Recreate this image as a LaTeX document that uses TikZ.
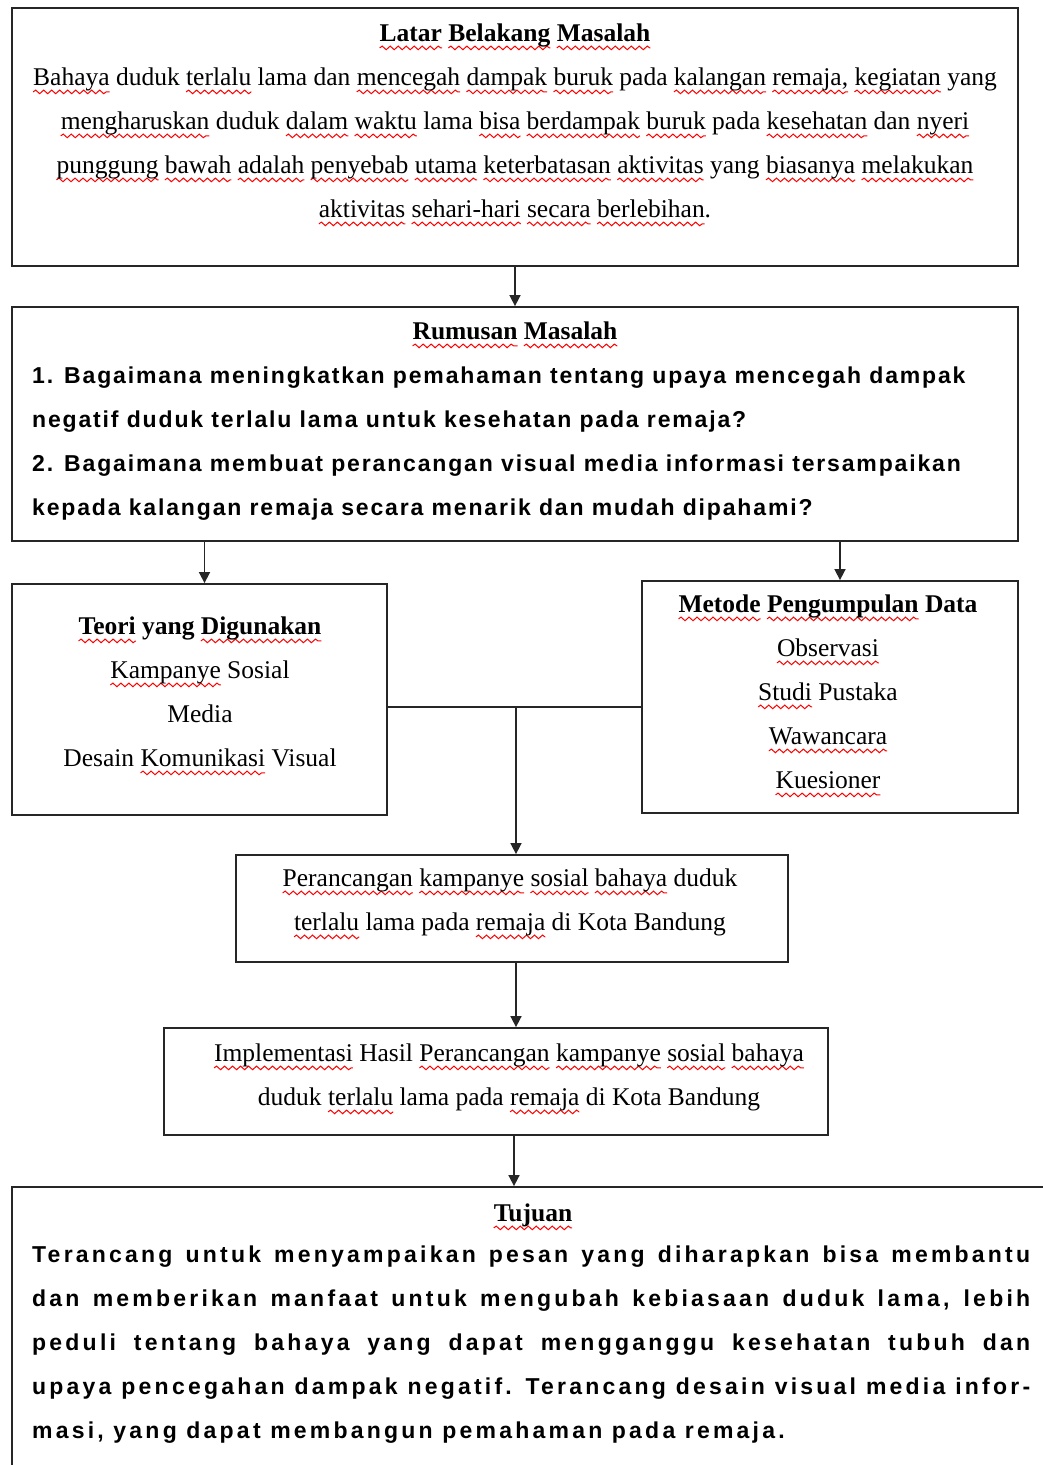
\documentclass[tikz,border=0pt]{standalone}
\usepackage{fontspec}
\setmainfont{Liberation Serif}
\newfontfamily\boldsans[LetterSpace=8]{Liberation Sans}
\newfontfamily\widesans[LetterSpace=14]{Liberation Sans}
\usetikzlibrary{arrows.meta,decorations.pathmorphing}
\newsavebox\splbox
\newcommand\spl[1]{\sbox\splbox{#1}\tikz[overlay,baseline=0pt,x=1pt,y=1pt]\draw[red, line width=1pt, decorate, decoration={snake, amplitude=1.8pt, segment length=8pt}] (0pt,-6pt) -- (\the\wd\splbox,-6pt);\usebox\splbox}
\tikzset{
  box/.style={draw=black!85, line width=1.8pt},
  txt/.style={font=\fontsize{25.5}{44}\selectfont, align=center, inner sep=0pt, anchor=north},
  arr/.style={-{Triangle[length=11pt,width=11pt]}, line width=1.6pt, black!85},
  ln/.style={line width=1.6pt, black!85}
}
\begin{document}
\begin{tikzpicture}[x=1pt,y=-1pt]
\useasboundingbox (0,0) rectangle (1043,1465);
\clip (0,0) rectangle (1043,1465);

% Boxes
\node[box, minimum width=1006pt, minimum height=258pt] (latar) at (515,137) {};
\node[box, minimum width=1006pt, minimum height=234pt] (rumusan) at (515,424) {};
\node[box, minimum width=375pt, minimum height=231pt] (teori) at (199.5,699.5) {};
\node[box, minimum width=376pt, minimum height=232pt] (metode) at (830,697) {};
\node[box, minimum width=552pt, minimum height=107pt] (rancang) at (512,908.5) {};
\node[box, minimum width=664pt, minimum height=107pt] (impl) at (496,1081.5) {};
\node[box, minimum width=1042pt, minimum height=300pt] (tujuan) at (533,1337) {};

% Latar Belakang
\node[txt] (latar-txt) at (515,24) {\textbf{\spl{Latar} \spl{Belakang} \spl{Masalah}}\\
\spl{Bahaya} duduk \spl{terlalu} lama dan \spl{mencegah} \spl{dampak} \spl{buruk} pada \spl{kalangan} \spl{remaja,} \spl{kegiatan} yang\\
\spl{mengharuskan} duduk \spl{dalam} \spl{waktu} lama \spl{bisa} \spl{berdampak} \spl{buruk} pada \spl{kesehatan} dan \spl{nyeri}\\
\spl{punggung} \spl{bawah} \spl{adalah} \spl{penyebab} \spl{utama} \spl{keterbatasan} \spl{aktivitas} yang \spl{biasanya} \spl{melakukan}\\
\spl{aktivitas} \spl{sehari-hari} \spl{secara} \spl{berlebihan}.};

% Rumusan Masalah
\node[txt] (rumusan-title) at (515,322) {\textbf{\spl{Rumusan} \spl{Masalah}}};
\node[txt, anchor=north west, align=left, font=\boldsans\bfseries\fontsize{23}{44}\selectfont] (rumusan-txt) at (32,367) {1. Bagaimana meningkatkan pemahaman tentang upaya mencegah dampak\\
negatif duduk terlalu lama untuk kesehatan pada remaja?\\
2. Bagaimana membuat perancangan visual media informasi tersampaikan\\
kepada kalangan remaja secara menarik dan mudah dipahami?};

% Teori dan Metode
\node[txt] (teori-txt) at (200,617) {\textbf{\spl{Teori} yang \spl{Digunakan}}\\
\spl{Kampanye} Sosial\\
Media\\
Desain \spl{Komunikasi} Visual};
\node[txt] (metode-txt) at (828,595) {\textbf{\spl{Metode} \spl{Pengumpulan} Data}\\
\spl{Observasi}\\
\spl{Studi} Pustaka\\
\spl{Wawancara}\\
\spl{Kuesioner}};

% Perancangan
\node[txt] (rancang-txt) at (510,869) {\spl{Perancangan} \spl{kampanye} \spl{sosial} \spl{bahaya} duduk\\
\spl{terlalu} lama pada \spl{remaja} di Kota Bandung};
\node[txt] (impl-txt) at (509,1044) {\spl{Implementasi} Hasil \spl{Perancangan} \spl{kampanye} \spl{sosial} \spl{bahaya}\\
duduk \spl{terlalu} lama pada \spl{remaja} di Kota Bandung};

% Tujuan
\node[txt] (tujuan-title) at (533,1204) {\textbf{\spl{Tujuan}}};
\node[txt, anchor=north west, align=justify, text width=998pt, font=\widesans\bfseries\fontsize{23}{44}\selectfont] (tujuan-txt) at (32,1246) {Terancang untuk menyampaikan pesan yang diharapkan bisa membantu\linebreak
dan memberikan manfaat untuk mengubah kebiasaan duduk lama, lebih\linebreak
peduli tentang bahaya yang dapat mengganggu kesehatan tubuh dan\linebreak
upaya pencegahan dampak negatif. Terancang desain visual media infor-\linebreak
masi, yang dapat membangun pemahaman pada remaja.};

% Connectors
\coordinate (join) at (516,707);
\draw[arr] (latar.south) -- (rumusan.north);
\draw[arr] ([xshift=5pt]teori.north |- rumusan.south) -- ([xshift=5pt]teori.north);
\draw[arr] ([xshift=10pt]metode.north |- rumusan.south) -- ([xshift=10pt]metode.north);
\draw[ln] (teori.east |- join) -- (metode.west |- join);
\draw[arr] (join) -- (join |- rancang.north);
\draw[arr] (join |- rancang.south) -- (join |- impl.north);
\draw[arr] ([xshift=18pt]impl.south) -- ([xshift=18pt]impl.south |- tujuan.north);
\end{tikzpicture}
\end{document}
